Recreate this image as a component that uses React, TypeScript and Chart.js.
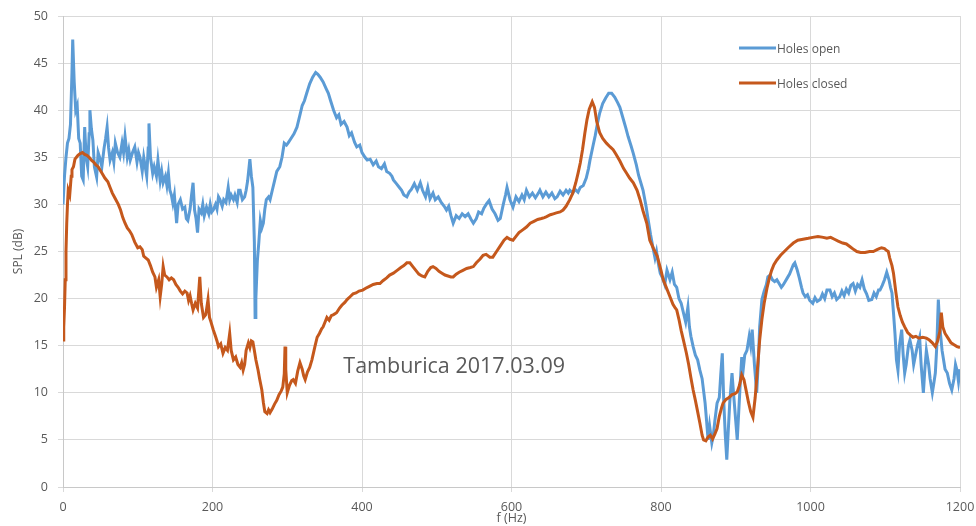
import React, { useEffect, useRef } from "react";
import { Chart, registerables } from "chart.js";

Chart.register(...registerables);

// ---- Data: "Holes open" ----
const openFreq: number[] = [
  0, 2, 4, 6, 8, 10, 12, 13, 15, 17,
  19, 21, 23, 25, 27, 29, 31, 33, 35, 36,
  38, 40, 42, 45, 47, 49, 52, 55, 57, 59,
  61, 63, 66, 68, 70, 73, 76, 79, 81, 83,
  86, 88, 90, 93, 96, 99, 101, 103, 106, 108,
  110, 112, 114, 115, 117, 120, 122, 125, 127, 130,
  132, 134, 137, 139, 141, 143, 145, 147, 149, 152,
  154, 157, 160, 163, 165, 167, 170, 172, 174, 176,
  178, 180, 182, 185, 187, 189, 192, 195, 197, 199,
  201, 204, 206, 208, 210, 213, 215, 218, 221, 223,
  225, 228, 230, 233, 235, 237, 240, 243, 245, 247,
  250, 252, 254, 256, 257, 258, 260, 262, 264, 266,
  268, 270, 272, 275, 277, 280, 283, 286, 290, 293,
  296, 299, 301, 305, 309, 313, 317, 320, 323, 326,
  330, 334, 338, 341, 344, 348, 352, 355, 358, 362,
  366, 369, 372, 376, 380, 383, 386, 390, 393, 397,
  400, 404, 407, 411, 415, 419, 422, 426, 430, 433,
  437, 440, 442, 446, 450, 453, 456, 460, 463, 466,
  470, 474, 478, 481, 485, 488, 491, 495, 498, 502,
  506, 510, 513, 516, 519, 522, 526, 530, 534, 538,
  542, 546, 549, 553, 556, 560, 563, 567, 570, 574,
  578, 582, 585, 589, 592, 594, 598, 602, 606, 610,
  614, 617, 620, 624, 628, 632, 636, 638, 642, 646,
  650, 654, 658, 661, 665, 669, 673, 676, 678, 682,
  685, 689, 692, 696, 700, 703, 705, 709, 712, 715,
  718, 722, 726, 730, 734, 738, 742, 745, 749, 753,
  756, 760, 763, 767, 770, 773, 776, 780, 783, 786,
  789, 792, 794, 797, 799, 802, 805, 808, 810, 812,
  815, 818, 821, 824, 827, 830, 833, 836, 838, 840,
  843, 846, 849, 852, 855, 857, 859, 861, 863, 865,
  868, 870, 872, 875, 878, 880, 882, 884, 886, 888,
  890, 892, 895, 897, 900, 902, 904, 906, 908, 910,
  912, 915, 918, 920, 922, 925, 928, 930, 932, 935,
  938, 941, 943, 946, 949, 952, 955, 958, 961, 963,
  966, 969, 972, 975, 977, 979, 982, 985, 988, 990,
  993, 996, 999, 1003, 1006, 1009, 1013, 1016, 1019, 1022,
  1026, 1029, 1032, 1035, 1039, 1042, 1045, 1048, 1051, 1054,
  1057, 1060, 1063, 1066, 1069, 1072, 1075, 1078, 1082, 1085,
  1088, 1091, 1093, 1096, 1099, 1102, 1105, 1107, 1109, 1111,
  1113, 1115, 1117, 1119, 1122, 1124, 1126, 1128, 1131, 1133,
  1136, 1138, 1140, 1143, 1146, 1148, 1151, 1153, 1155, 1158,
  1160, 1163, 1165, 1167, 1169, 1171, 1173, 1176, 1178, 1180,
  1183, 1186, 1189, 1192, 1194, 1196, 1198, 1200,
];
const openSpl: number[] = [
  30, 33, 35, 36.5, 37, 38.5, 44, 47.5, 43, 40,
  40.5, 37, 36.5, 33, 32.6, 38.2, 35, 34, 37.5, 40,
  38, 36.8, 34, 32.9, 35.5, 35, 34, 36, 37, 38.2,
  36, 34.7, 35.5, 34.5, 36.5, 35.5, 35, 36.5, 35.5, 37.2,
  35, 35.8, 34.7, 35.5, 36.1, 34.5, 35.5, 35, 33.5, 35,
  34, 33, 36, 38.6, 35, 33.3, 34, 33, 34.7, 32.5,
  33.5, 32.3, 33, 32, 33.3, 31.5, 31, 30.1, 31, 28,
  30, 30.5, 29.5, 29.7, 28.5, 28.3, 29.5, 31, 32.3, 29.4,
  28.5, 27, 29.5, 29.1, 30, 28.8, 29.7, 29, 30, 29.2,
  29.4, 30, 29.5, 30.8, 30.5, 29.8, 30.5, 30.2, 31.8, 30.5,
  31, 30.5, 31, 30.2, 31.5, 31.5, 30.5, 30.8, 31.5, 32.5,
  34.8, 33, 31.8, 26, 18, 20, 24, 26, 28.3, 27.5,
  28, 29.5, 30.5, 30.8, 30.5, 31.5, 32.5, 33.5, 34, 35,
  36.5, 36.3, 36.5, 37, 37.5, 38.2, 39.5, 40.5, 41, 41.8,
  42.8, 43.5, 44, 43.8, 43.5, 43, 42.3, 41.8, 41, 40,
  39.2, 39.5, 38.5, 38.8, 38.2, 37.3, 37.6, 36.6, 36.1, 36.3,
  35.5, 35, 34.7, 34.8, 34.2, 34.6, 34, 33.8, 34.3, 33.5,
  33.3, 33, 32.6, 32.2, 31.8, 31.5, 31, 30.8, 31.3, 31.6,
  32.2, 31.5, 32.3, 31.5, 30.8, 31.8, 30.6, 31.2, 30.5, 30.8,
  30.2, 29.8, 29.4, 29.8, 28.8, 28, 28.8, 28.5, 29, 28.7,
  29, 28.4, 28, 28.5, 29.2, 29, 29.6, 30.1, 30.4, 29.5,
  29, 28.3, 28.5, 30, 31, 31.8, 30.5, 29.7, 30.8, 30.3,
  31, 30.5, 31.5, 30.8, 31.2, 30.7, 31.2, 31.5, 30.8, 31.3,
  30.8, 31.2, 30.6, 30.8, 31.4, 31, 31.5, 31.2, 31.5, 31.2,
  31.6, 31.3, 31.8, 32, 32.8, 33.8, 34.7, 36.2, 37.3, 38.6,
  39.7, 40.7, 41.3, 41.8, 41.8, 41.4, 40.8, 40.3, 39.2, 38.1,
  37.2, 36.2, 35.4, 34.2, 33.1, 32.3, 31.5, 29.8, 28.3, 26.8,
  25.5, 24.3, 25, 23.5, 22.7, 22.2, 21.5, 23, 22.5, 22,
  22.8, 21.5, 21.2, 20, 19.5, 18.5, 17.5, 19.1, 17, 16,
  14.9, 14, 13.5, 12.4, 11.5, 10.2, 8.9, 7, 5, 6.5,
  4.7, 5.5, 7, 8.9, 9.5, 12, 14.2, 9, 5.5, 2.9,
  6, 9, 12.1, 10, 7, 5, 8, 11, 13.8, 12.5,
  14, 14.5, 16, 15, 16.7, 13, 10, 13, 17, 19.9,
  20.8, 21.5, 22.3, 22.5, 22, 21.8, 22, 21.6, 21.2, 21.4,
  21.8, 22.2, 22.6, 23.2, 23.6, 23.8, 23.1, 22.2, 21.2, 20.6,
  20.2, 20.4, 19.8, 19.5, 20.1, 19.7, 19.9, 20.5, 20, 20.9,
  20.9, 20.2, 20.6, 19.9, 20.2, 20.8, 20.3, 21, 20.6, 21.4,
  21.6, 20.8, 21.5, 21.2, 22, 21, 20.5, 19.8, 19.9, 20.6,
  20.2, 20.9, 20.9, 21.4, 22, 22.8, 22, 21.2, 20.6, 18.5,
  16.3, 13.5, 12.4, 15, 16.7, 14, 12.1, 13, 15, 15.6,
  14.5, 13, 13.8, 15, 15.9, 13, 10, 12.5, 14.5, 13,
  11.5, 10, 11, 12.1, 15, 19.9, 17, 14.5, 13.5, 12.5,
  12.1, 11, 10.3, 11.5, 13, 12.4, 11.2, 12.5,
];

// ---- Data: "Holes closed" ----
const closedFreq: number[] = [
  0, 1, 2, 3, 4, 5, 6, 7, 9, 11,
  12, 14, 16, 18, 20, 23, 26, 29, 32, 35,
  38, 41, 44, 47, 50, 53, 56, 60, 63, 66,
  70, 74, 77, 80, 83, 86, 89, 92, 96, 100,
  103, 106, 108, 111, 114, 117, 120, 123, 125, 128,
  130, 132, 134, 136, 139, 142, 145, 148, 151, 154,
  157, 160, 163, 166, 168, 170, 172, 174, 177, 180,
  183, 185, 188, 191, 194, 196, 198, 201, 204, 206,
  208, 211, 214, 217, 220, 223, 225, 228, 231, 234,
  237, 239, 241, 243, 245, 248, 250, 252, 254, 256,
  258, 261, 263, 266, 268, 270, 273, 275, 277, 280,
  283, 286, 289, 292, 294, 296, 297, 298, 300, 303,
  306, 308, 311, 314, 317, 320, 322, 324, 327, 330,
  333, 337, 340, 343, 346, 348, 351, 353, 356, 359,
  362, 366, 370, 373, 377, 380, 384, 388, 392, 396,
  401, 405, 410, 415, 420, 424, 428, 433, 437, 442,
  447, 452, 456, 460, 464, 468, 472, 476, 480, 484,
  488, 492, 495, 499, 503, 507, 511, 515, 519, 522,
  526, 530, 535, 540, 545, 549, 553, 558, 562, 566,
  571, 575, 580, 585, 590, 594, 598, 602, 606, 610,
  615, 620, 625, 630, 635, 640, 644, 647, 652, 656,
  660, 665, 669, 673, 678, 682, 686, 689, 692, 695,
  698, 701, 704, 708, 711, 714, 718, 722, 727, 732,
  736, 740, 745, 750, 754, 758, 763, 768, 772, 776,
  781, 785, 790, 795, 800, 803, 807, 812, 816, 819,
  821, 824, 827, 830, 834, 837, 840, 843, 846, 849,
  852, 855, 857, 860, 863, 866, 869, 872, 875, 878,
  881, 883, 887, 891, 895, 899, 902, 905, 908, 911,
  914, 917, 920, 923, 926, 929, 932, 935, 938, 942,
  945, 948, 951, 955, 960, 965, 970, 977, 983, 990,
  997, 1003, 1010, 1017, 1022, 1027, 1032, 1037, 1043, 1048,
  1053, 1058, 1062, 1067, 1073, 1079, 1084, 1089, 1092, 1095,
  1099, 1102, 1104, 1106, 1109, 1111, 1114, 1117, 1120, 1123,
  1126, 1130, 1134, 1137, 1141, 1145, 1150, 1155, 1159, 1163,
  1167, 1170, 1173, 1175, 1177, 1180, 1184, 1188, 1192, 1196,
  1200,
];
const closedSpl: number[] = [
  15.6, 17, 19, 22, 25, 28, 30, 31.5, 31, 33,
  33.7, 34, 34.8, 35, 35.2, 35.4, 35.5, 35.3, 35.2, 35,
  34.7, 34.5, 34.2, 34, 33.6, 33.2, 32.8, 32.4, 31.8, 31.2,
  30.6, 30, 29.4, 28.6, 28, 27.5, 27.2, 26.8, 26, 25.4,
  25.5, 25.2, 24.5, 24.3, 24.1, 23.5, 22.8, 22.3, 21.2, 22,
  20.2, 21.5, 23.4, 22.5, 22.3, 22, 22.2, 22, 21.5, 21.2,
  20.8, 20.5, 20.8, 20.6, 19.8, 20.3, 19.5, 18.8, 19.5, 19,
  22.3, 19.5, 18, 18.3, 19.9, 18, 17.5, 16.7, 16, 15.5,
  14.9, 15.2, 14.2, 14.8, 14.5, 16.3, 14.5, 13.5, 13.8, 13,
  12.7, 13.2, 12.4, 13, 14.5, 15.3, 14.8, 15.5, 15.4, 14.5,
  13.5, 12.4, 11.5, 10.3, 9, 8, 7.8, 8.2, 7.9, 8.3,
  8.8, 9.2, 9.8, 10.2, 10.6, 12, 14.9, 12.5, 10, 10.8,
  11.3, 11.4, 11, 12.3, 13.2, 12.5, 11.8, 11.4, 12.2, 12.7,
  13.5, 14.9, 15.9, 16.3, 16.8, 17, 17.6, 18, 17.7, 18.2,
  18.3, 18.5, 19, 19.3, 19.6, 19.9, 20.2, 20.5, 20.6, 20.8,
  20.9, 21.1, 21.3, 21.5, 21.6, 21.6, 21.9, 22.2, 22.5, 22.7,
  23, 23.3, 23.5, 23.8, 23.8, 23.4, 23, 22.6, 22.4, 22.3,
  22.9, 23.3, 23.4, 23.2, 22.9, 22.7, 22.5, 22.4, 22.3, 22.3,
  22.6, 22.8, 23, 23.2, 23.3, 23.4, 23.8, 24.2, 24.6, 24.7,
  24.4, 24.4, 25, 25.6, 26.2, 26.5, 26.3, 26.2, 26.6, 27,
  27.3, 27.6, 28, 28.2, 28.4, 28.5, 28.6, 28.7, 28.9, 29,
  29.1, 29.2, 29.4, 29.8, 30.5, 31.2, 32.3, 33.3, 34.4, 35.8,
  37.5, 39, 40.1, 40.9, 40.3, 38.8, 37.6, 37, 36.5, 36.1,
  35.8, 35.3, 34.6, 33.8, 33.3, 32.8, 32.3, 31.5, 30.5, 29.3,
  28, 26.2, 25.3, 24.5, 23, 22, 21.2, 20.2, 19.4, 19,
  18.8, 17.8, 16.6, 15.6, 14.2, 13, 11.6, 10.3, 9.2, 8,
  6.8, 5.5, 5, 4.9, 5.3, 5.5, 5.1, 5.6, 6.2, 7.5,
  8.4, 8.9, 9.3, 9.5, 9.8, 9.9, 10.1, 10.8, 11.9, 11.4,
  10.2, 9, 8, 7.4, 9.5, 12.5, 15.6, 17.8, 19.5, 21.2,
  22.2, 23, 23.6, 24.1, 24.6, 25, 25.4, 25.9, 26.2, 26.3,
  26.4, 26.5, 26.6, 26.5, 26.4, 26.5, 26.3, 26.1, 25.9, 25.8,
  25.5, 25.2, 25, 24.9, 24.9, 25, 25, 25.2, 25.3, 25.4,
  25.3, 25.1, 25, 24.3, 23.5, 22.7, 20.8, 19.1, 18.2, 17.5,
  17, 16.4, 16.1, 15.9, 16, 15.8, 15.9, 15.8, 15.6, 15.3,
  14.9, 15.5, 16.5, 18.5, 17, 16.3, 15.8, 15.3, 15.1, 14.9,
  14.8,
];

const seriesNames = ["Holes open", "Holes closed"];
const seriesColors = ["#5b9bd5", "#c5581c"];
const xTicks = [0, 200, 400, 600, 800, 1000, 1200];
const annotationText = "Tamburica 2017.03.09";
const annotationAt = { f: 375, spl: 12.1 };

const FONT = "'Open Sans', 'Noto Sans', sans-serif";
const TEXT_COLOR = "#595959";

function toPoints(xs: number[], ys: number[]) {
  const n = Math.min(xs.length, ys.length);
  const out: { x: number; y: number }[] = [];
  for (let i = 0; i < n; i++) out.push({ x: xs[i], y: ys[i] });
  return out;
}

const overlayPlugin = {
  id: "overlay",
  afterDraw(chart: any) {
    const { ctx, chartArea, scales } = chart;
    ctx.save();
    // annotation
    ctx.font = `21.5px ${FONT}`;
    ctx.fillStyle = TEXT_COLOR;
    ctx.textAlign = "left";
    ctx.textBaseline = "alphabetic";
    ctx.fillText(
      annotationText,
      scales.x.getPixelForValue(annotationAt.f),
      scales.y.getPixelForValue(annotationAt.spl)
    );
    // legend
    const lx = chartArea.left + 676;
    const rows = [chartArea.top + 32, chartArea.top + 67];
    ctx.font = `12px ${FONT}`;
    ctx.textBaseline = "middle";
    seriesNames.forEach((name, i) => {
      const y = rows[i];
      ctx.strokeStyle = seriesColors[i];
      ctx.lineWidth = 3;
      ctx.beginPath();
      ctx.moveTo(lx, y);
      ctx.lineTo(lx + 37, y);
      ctx.stroke();
      ctx.fillStyle = TEXT_COLOR;
      ctx.fillText(name, lx + 38, y + 2);
    });
    ctx.restore();
  },
};

export default function App() {
  const ref = useRef<HTMLCanvasElement | null>(null);
  useEffect(() => {
    if (!ref.current) return;
    const chart = new Chart(ref.current, {
      type: "line",
      data: {
        datasets: [
          {
            label: seriesNames[0],
            data: toPoints(openFreq, openSpl),
            borderColor: seriesColors[0],
            backgroundColor: seriesColors[0],
            borderWidth: 3,
            pointRadius: 0,
            tension: 0,
            order: 1,
          },
          {
            label: seriesNames[1],
            data: toPoints(closedFreq, closedSpl),
            borderColor: seriesColors[1],
            backgroundColor: seriesColors[1],
            borderWidth: 3,
            pointRadius: 0,
            tension: 0,
            order: 0,
          },
        ],
      },
      options: {
        animation: false,
        responsive: false,
        layout: { padding: { left: 0, right: 16, top: 16, bottom: 0 } },
        plugins: { legend: { display: false }, tooltip: { enabled: false } },
        scales: {
          x: {
            type: "linear",
            min: 0,
            max: 1200,
            afterBuildTicks: (scale: any) => {
              scale.ticks = xTicks.map((v) => ({ value: v }));
            },
            afterFit: (scale: any) => {
              scale.height = 39;
              scale.paddingLeft = 0;
              scale.paddingRight = 0;
            },
            ticks: {
              color: TEXT_COLOR,
              font: { family: FONT, size: 12.5 },
              padding: 8,
              maxRotation: 0,
              autoSkip: false,
              callback: (v: any) => String(v),
            },
            grid: { color: "#d9d9d9", tickLength: 5, lineWidth: 1 },
            border: { color: "#c8c8c8" },
            title: {
              display: true,
              text: "f (Hz)",
              color: TEXT_COLOR,
              font: { family: FONT, size: 12.5 },
              padding: { top: 0, bottom: 0 },
            },
          },
          y: {
            type: "linear",
            min: 0,
            max: 50,
            ticks: {
              stepSize: 5,
              color: TEXT_COLOR,
              font: { family: FONT, size: 12.5 },
              padding: 10,
            },
            afterFit: (scale: any) => {
              scale.width = 63;
              scale.paddingTop = 0;
              scale.paddingBottom = 0;
            },
            grid: { color: "#d9d9d9", tickLength: 5, lineWidth: 1 },
            border: { color: "#c8c8c8" },
            title: {
              display: true,
              text: "SPL (dB)",
              color: TEXT_COLOR,
              font: { family: FONT, size: 12 },
              padding: { top: 11, bottom: 0 },
            },
          },
        },
      },
      plugins: [overlayPlugin],
    } as any);
    return () => chart.destroy();
  }, []);
  return (
    <div style={{ position: "fixed", left: 0, top: 0, width: 976, height: 526, background: "#fff" }}>
      <canvas ref={ref} width={976} height={526} style={{ width: 976, height: 526 }} />
    </div>
  );
}
